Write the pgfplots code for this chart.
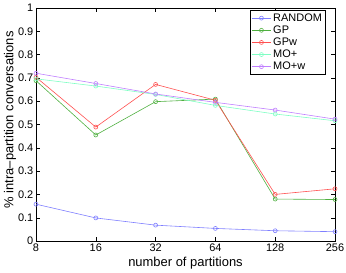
\documentclass[border=0pt]{standalone}
\usepackage{fontspec}
\setmainfont{Liberation Sans}
\usepackage{pgfplots}
\pgfplotsset{compat=1.18}
\definecolor{cR}{HTML}{7F7FFF}
\definecolor{cGP}{HTML}{4FB040}
\definecolor{cGPw}{HTML}{FF5050}
\definecolor{cMO}{HTML}{7FFFC4}
\definecolor{cMOw}{HTML}{C07FFF}
\begin{document}
\begin{tikzpicture}
\useasboundingbox (-36bp,-32bp) rectangle (310bp,241bp);
\begin{axis}[
  at={(0,0)}, anchor=south west,
  scale only axis,
  width=299bp, height=233bp,
  xmin=0, xmax=5, ymin=0, ymax=1,
  xtick={0,1,2,3,4,5},
  xticklabels={8,16,32,64,128,256},
  ytick={0,0.1,...,1.0},
  yticklabels={0,0.1,0.2,0.3,0.4,0.5,0.6,0.7,0.8,0.9,1},
  tick align=inside,
  major tick length=4bp,
  tick style={black, line width=0.4pt},
  axis line style={black, line width=0.6pt},
  every tick label/.append style={font=\fontsize{11}{12}\selectfont},
  /pgf/number format/assume math mode=true,
  xlabel={number of partitions},
  ylabel={\% intra--partition conversations},
  label style={font=\fontsize{13}{14}\selectfont},
  xlabel style={at={(axis description cs:0.5,0)}, anchor=center, yshift=-22bp},
  ylabel style={at={(axis description cs:0,0.52)}, anchor=center, yshift=26bp},
  xticklabel style={yshift=0.5pt},
  yticklabel style={xshift=0.8pt},
  legend style={at={(rel axis cs:0.968,0.991)}, anchor=north east, font=\fontsize{11}{12}\selectfont, draw=black, line width=0.6pt, inner sep=1.2pt, row sep=-1pt, cells={anchor=west}, /tikz/every even column/.append style={column sep=0pt}},
  legend image code/.code={\draw[#1] (0pt,0pt) -- (19bp,0pt); \draw[#1, mark repeat=1] plot coordinates {(9.5bp,0pt)};},
  every axis plot/.append style={line width=0.6pt, mark=o, mark size=2pt, mark options={solid}},
]
\addplot[color=cR] coordinates {(0,0.158) (1,0.099) (2,0.068) (3,0.054) (4,0.044) (5,0.040)};
\addplot[color=cGP] coordinates {(0,0.688) (1,0.455) (2,0.598) (3,0.609) (4,0.180) (5,0.178)};
\addplot[color=cGPw] coordinates {(0,0.703) (1,0.489) (2,0.672) (3,0.604) (4,0.200) (5,0.224)};
\addplot[color=cMO] coordinates {(0,0.696) (1,0.665) (2,0.629) (3,0.582) (4,0.545) (5,0.516)};
\addplot[color=cMOw] coordinates {(0,0.720) (1,0.676) (2,0.631) (3,0.595) (4,0.562) (5,0.523)};
\legend{RANDOM,GP,GPw,MO+,MO+w}
\end{axis}
\end{tikzpicture}
\end{document}
